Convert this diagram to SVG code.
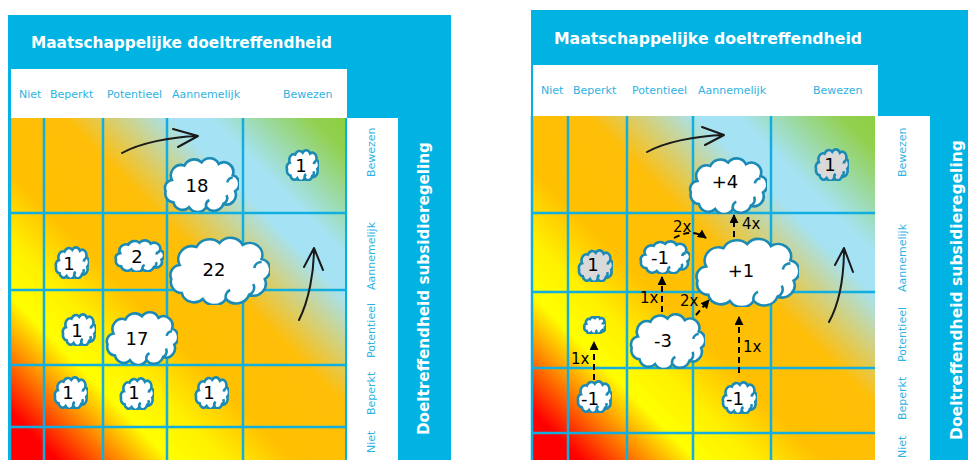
<svg xmlns="http://www.w3.org/2000/svg" width="968" height="460" viewBox="0 0 968 460">
<style>
.panel{fill:#00B3E3}
.white{fill:#fff}
.grid{stroke:#12AEE0;stroke-width:2.5;fill:none}
.title{font-family:"DejaVu Sans",Verdana,sans-serif;font-weight:bold;font-size:16px;fill:#fff}
.lab{font-family:"DejaVu Sans",Verdana,sans-serif;font-size:11px;fill:#2EB3E3}
.num{font-family:"DejaVu Sans",Verdana,sans-serif;font-size:18px;fill:#000;text-anchor:middle}
.cnt{font-family:"DejaVu Sans",Verdana,sans-serif;font-size:15px;fill:#000}
.hand{stroke:#1a1a1a;stroke-width:2;fill:none;stroke-linecap:round;stroke-linejoin:round}
.dash{stroke:#000;stroke-width:2;fill:none;stroke-dasharray:6,4;marker-end:url(#ah)}
</style>
<defs>
<linearGradient id="heat" x1="0" y1="1" x2="1" y2="0">
<stop offset="0" stop-color="#FF0000"/>
<stop offset="0.07" stop-color="#FF0000"/>
<stop offset="0.24" stop-color="#FFFF00"/>
<stop offset="0.32" stop-color="#FFF000"/>
<stop offset="0.42" stop-color="#FFC000"/>
<stop offset="0.58" stop-color="#FFBE08"/>
<stop offset="0.74" stop-color="#A5E3F4"/>
<stop offset="0.8" stop-color="#A5E3F4"/>
<stop offset="0.95" stop-color="#92D050"/>
<stop offset="1" stop-color="#8CCF40"/>
</linearGradient>
<symbol id="cloud" viewBox="0 0 100 70" preserveAspectRatio="none">
<path stroke="#1B8AB5" stroke-width="2.6" vector-effect="non-scaling-stroke" d="M14,30 A13,13 0 0 1 30,12 A14,14 0 0 1 52,8 A13,13 0 0 1 74,10 A12,12 0 0 1 92,24 A11,11 0 0 1 95,44 A12,12 0 0 1 80,60 A13,13 0 0 1 58,64 A13,13 0 0 1 36,64 A12,12 0 0 1 16,58 A11,11 0 0 1 6,44 A10,10 0 0 1 14,30 Z"/>
<path fill="none" stroke="#1B8AB5" stroke-width="2.6" vector-effect="non-scaling-stroke" d="M80,60 A8,8 0 0 0 84,49 M58,64 A8,8 0 0 1 62,55 M92,27 A7,7 0 0 0 85,33"/>
</symbol>
<marker id="ah" viewBox="0 0 10 10" refX="9" refY="5" markerWidth="4.5" markerHeight="4.5" orient="auto"><path d="M0,0 L10,5 L0,10 z" fill="#000"/></marker>
</defs>
<rect width="968" height="460" fill="#fff"/>

<!-- LEFT PANEL -->
<g id="left-panel">
<rect class="panel" x="8" y="15" width="443" height="445"/>
<rect class="white" x="11" y="69" width="336" height="49"/>
<rect class="white" x="347" y="118" width="51" height="342"/>
<rect x="11" y="118" width="334" height="342" fill="url(#heat)"/>
<path class="grid" d="M44,118V460 M103,118V460 M167,118V460 M243,118V460 M11,213H345 M11,290H345 M11,365H345 M11,427H345 M10,118V460"/>
<text class="title" x="31" y="48" textLength="301" lengthAdjust="spacingAndGlyphs">Maatschappelijke doeltreffendheid</text>
<text class="lab" x="19" y="98">Niet</text>
<text class="lab" x="50" y="98">Beperkt</text>
<text class="lab" x="107" y="98">Potentieel</text>
<text class="lab" x="172" y="98">Aannemelijk</text>
<text class="lab" x="283" y="98">Bewezen</text>
<text class="lab" transform="translate(375,177) rotate(-90)">Bewezen</text>
<text class="lab" transform="translate(375,290) rotate(-90)">Aannemelijk</text>
<text class="lab" transform="translate(375,358) rotate(-90)">Potentieel</text>
<text class="lab" transform="translate(375,415) rotate(-90)">Beperkt</text>
<text class="lab" transform="translate(375,453) rotate(-90)">Niet</text>
<text class="title" transform="translate(429,435) rotate(-90)" textLength="293" lengthAdjust="spacingAndGlyphs">Doeltreffendheid subsidieregeling</text>
</g>
<g id="left-arrows">
<path class="hand" d="M122,153 C140,143 170,137 198,136 M173,129 L198,136 L178,147"/>
<path class="hand" d="M299,320 C309,300 314,272 314,248 M304,267 L314,248 L323,270"/>
</g>
<g id="L-c1"><use href="#cloud" x="285" y="149" width="34" height="32" fill="#fff"/><text class="num" x="301" y="172">1</text></g>
<g id="L-c18"><use href="#cloud" x="161" y="156" width="78" height="56" fill="#fff"/><text class="num" x="197" y="192">18</text></g>
<g id="L-c1b"><use href="#cloud" x="54" y="246" width="35" height="33" fill="#fff"/><text class="num" x="69" y="270">1</text></g>
<g id="L-c2"><use href="#cloud" x="113" y="239" width="51" height="33" fill="#fff"/><text class="num" x="137" y="263">2</text></g>
<g id="L-c22"><use href="#cloud" x="165" y="235" width="105" height="70" fill="#fff"/><text class="num" x="214" y="276">22</text></g>
<g id="L-c1c"><use href="#cloud" x="61" y="313" width="35" height="33" fill="#fff"/><text class="num" x="77" y="337">1</text></g>
<g id="L-c17"><use href="#cloud" x="103" y="310" width="75" height="55" fill="#fff"/><text class="num" x="137" y="345">17</text></g>
<g id="L-c1d"><use href="#cloud" x="53" y="376" width="35" height="33" fill="#fff"/><text class="num" x="68" y="399">1</text></g>
<g id="L-c1e"><use href="#cloud" x="119" y="377" width="35" height="33" fill="#fff"/><text class="num" x="134" y="399">1</text></g>
<g id="L-c1f"><use href="#cloud" x="194" y="376" width="35" height="33" fill="#fff"/><text class="num" x="209" y="399">1</text></g>

<!-- RIGHT PANEL -->
<g id="right-panel">
<rect class="panel" x="531" y="10" width="437" height="450"/>
<rect class="white" x="533" y="65" width="345" height="51"/>
<rect class="white" x="875" y="116" width="55" height="344"/>
<rect x="533" y="116" width="342" height="344" fill="url(#heat)"/>
<path class="grid" d="M568,116V460 M627,116V460 M693,116V460 M771,116V460 M533,213H875 M533,292H875 M533,368H875 M533,433H875 M532,116V460"/>
<text class="title" x="554" y="44" textLength="308" lengthAdjust="spacingAndGlyphs">Maatschappelijke doeltreffendheid</text>
<text class="lab" x="541" y="94">Niet</text>
<text class="lab" x="573" y="94">Beperkt</text>
<text class="lab" x="632" y="94">Potentieel</text>
<text class="lab" x="698" y="94">Aannemelijk</text>
<text class="lab" x="813" y="94">Bewezen</text>
<text class="lab" transform="translate(906,177) rotate(-90)">Bewezen</text>
<text class="lab" transform="translate(906,292) rotate(-90)">Aannemelijk</text>
<text class="lab" transform="translate(906,362) rotate(-90)">Potentieel</text>
<text class="lab" transform="translate(906,420) rotate(-90)">Beperkt</text>
<text class="lab" transform="translate(906,458) rotate(-90)">Niet</text>
<text class="title" transform="translate(962,440) rotate(-90)" textLength="300" lengthAdjust="spacingAndGlyphs">Doeltreffendheid subsidieregeling</text>
</g>
<g id="right-arrows">
<path class="hand" d="M647,152 C665,142 695,136 724,135 M702,127 L724,135 L705,145"/>
<path class="hand" d="M829,322 C840,302 844,275 844,248 M835,265 L844,248 L853,272"/>
</g>
<g id="R-c1g"><use href="#cloud" x="814" y="148" width="35" height="33" fill="#D9D9D9"/><text class="num" x="830" y="171">1</text></g>
<g id="R-cp4"><use href="#cloud" x="686" y="156" width="81" height="58" fill="#fff"/><text class="num" x="725" y="188">+4</text></g>
<g id="R-c1g2"><use href="#cloud" x="577" y="249" width="36" height="33" fill="#D9D9D9"/><text class="num" x="593" y="271">1</text></g>
<g id="R-cm1a"><use href="#cloud" x="638" y="240" width="52" height="34" fill="#fff"/><text class="num" x="660" y="264">-1</text></g>
<g id="R-cp1"><use href="#cloud" x="691" y="236" width="108" height="71" fill="#fff"/><text class="num" x="741" y="277">+1</text></g>
<g id="R-csmall"><use href="#cloud" x="583" y="316" width="23" height="18" fill="#fff"/></g>
<g id="R-cm3"><use href="#cloud" x="627" y="312" width="78" height="57" fill="#fff"/><text class="num" x="663" y="347">-3</text></g>
<g id="R-cm1b"><use href="#cloud" x="576" y="380" width="36" height="33" fill="#fff"/><text class="num" x="590" y="405">-1</text></g>
<g id="R-cm1c"><use href="#cloud" x="721" y="381" width="36" height="33" fill="#fff"/><text class="num" x="735" y="405">-1</text></g>

<g id="connectors">
<path class="dash" d="M594,380 L594,342"/>
<path class="dash" d="M662,312 L662,277"/>
<path class="dash" d="M696,315 L709,300"/>
<path class="dash" d="M674,238 Q692,228 706,238"/>
<path class="dash" d="M734,237 L734,215"/>
<path class="dash" d="M739,373 L739,317"/>
<text class="cnt" x="571" y="364">1x</text>
<text class="cnt" x="640" y="303">1x</text>
<text class="cnt" x="680" y="306">2x</text>
<text class="cnt" x="673" y="232">2x</text>
<text class="cnt" x="742" y="229">4x</text>
<text class="cnt" x="743" y="352">1x</text>
</g>
</svg>
